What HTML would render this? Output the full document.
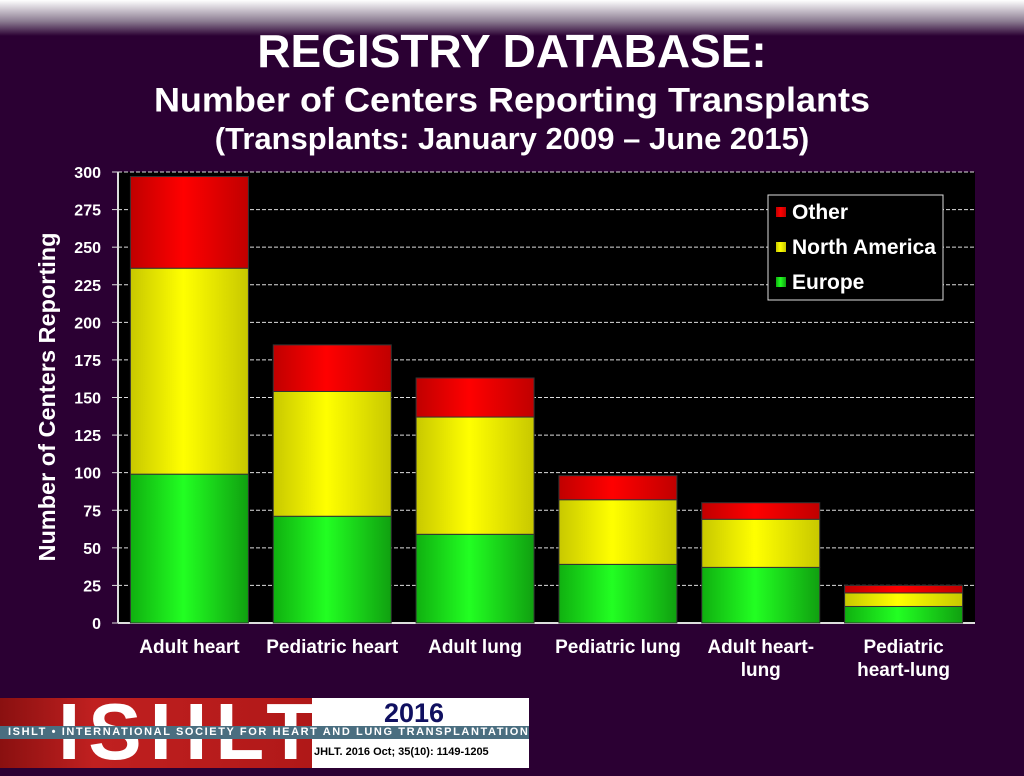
<!DOCTYPE html>
<html><head><meta charset="utf-8"><style>
body{margin:0;width:1024px;height:768px;overflow:hidden;background:#2b0033;font-family:"Liberation Sans",sans-serif}
#top{position:absolute;left:0;top:0;width:1024px;height:36px;background:linear-gradient(#ffffff,#8a7a90 60%,#2b0033)}
.t{position:absolute;left:0;width:1024px;text-align:center;color:#fff;font-weight:bold;white-space:nowrap}
</style></head><body>
<div id="top"></div>
<div class="t" style="top:24px;font-size:46px">REGISTRY DATABASE:</div>
<div class="t" style="top:79px;font-size:36px;transform:scaleY(0.94)">Number of Centers Reporting Transplants</div>
<div class="t" style="top:121px;font-size:31px">(Transplants: January 2009 – June 2015)</div>
<svg id="c" width="1024" height="768" style="position:absolute;left:0;top:0">
<defs>
<linearGradient id="gG"><stop offset="0" stop-color="#10b010"/><stop offset=".45" stop-color="#22ff22"/><stop offset="1" stop-color="#10a010"/></linearGradient>
<linearGradient id="gY"><stop offset="0" stop-color="#c8c800"/><stop offset=".45" stop-color="#ffff00"/><stop offset="1" stop-color="#c8c800"/></linearGradient>
<linearGradient id="gR"><stop offset="0" stop-color="#c00000"/><stop offset=".45" stop-color="#ff0000"/><stop offset="1" stop-color="#c00000"/></linearGradient>
</defs>
</svg>
<div style="position:absolute;left:0;top:698px;width:312px;height:70px;background:linear-gradient(90deg,#8a1010,#c02020 30%,#b01818)">
<div style="position:absolute;left:58px;top:-6px;font-size:80px;font-weight:bold;color:#fff;letter-spacing:8px;line-height:80px">ISHLT</div></div>
<div style="position:absolute;left:312px;top:698px;width:217px;height:70px;background:#fff">
<div style="position:absolute;left:72px;top:0;font-size:27px;font-weight:bold;color:#101060">2016</div>
<div style="position:absolute;left:2px;top:48px;font-size:11px;font-weight:bold;color:#000">JHLT. 2016 Oct; 35(10): 1149-1205</div></div>
<div style="position:absolute;left:0;top:726px;width:529px;height:13px;background:#4a6e80;color:#fff;font-size:11px;font-weight:bold;letter-spacing:1.6px;line-height:13px;padding-left:8px;box-sizing:border-box;white-space:nowrap">ISHLT • INTERNATIONAL SOCIETY FOR HEART AND LUNG TRANSPLANTATION</div>
<script>
const categories=[["Adult heart"],["Pediatric heart"],["Adult lung"],["Pediatric lung"],["Adult heart-","lung"],["Pediatric","heart-lung"]];
const europe=[99,71,59,39,37,11];
const northAmerica=[137,83,78,43,32,9];
const other=[61,31,26,16,11,5];
const yTicks=[0,25,50,75,100,125,150,175,200,225,250,275,300];
const NS="http://www.w3.org/2000/svg",svg=document.getElementById('c');
const X0=118,X1=975,Y0=623,Y1=172,yMax=300;
const y=v=>Y0-v/yMax*(Y0-Y1);
const band=(X1-X0)/categories.length;
const xc=i=>X0+band*(i+.5);
function mk(t,a){const e=document.createElementNS(NS,t);for(const k in a)e.setAttribute(k,a[k]);svg.appendChild(e);return e;}
const bg=mk('rect',{x:X0,y:Y1,width:X1-X0,height:Y0-Y1,fill:'#000'});


yTicks.forEach(v=>{
 if(v>0){const g=mk('line',{x1:X0,x2:X1,y1:y(v),y2:y(v),stroke:'#ddd','stroke-dasharray':'4 2','stroke-width':1});
 
 }
 mk('line',{x1:X0-6,x2:X0,y1:y(v),y2:y(v),stroke:'#ddd'});
 const t=mk('text',{x:X0-17,y:y(v)+6,fill:'#fff','font-size':16,'font-weight':'bold','text-anchor':'end','font-family':'Liberation Sans'});
 t.textContent=v;
 
 
});
mk('line',{x1:X0,x2:X0,y1:Y1,y2:Y0,stroke:'#ddd','stroke-width':2});
mk('line',{x1:X0,x2:X1,y1:Y0,y2:Y0,stroke:'#ddd','stroke-width':2});
const yt=mk('text',{transform:`translate(55,397) rotate(-90)`,fill:'#fff','font-size':23.5,'font-weight':'bold','text-anchor':'middle','font-family':'Liberation Sans'});
yt.textContent='Number of Centers Reporting';


const bw=118;
categories.forEach((c,i)=>{
 const segs=[[europe[i],'gG','europe'],[northAmerica[i],'gY','north-america'],[other[i],'gR','other']];
 let base=0;
 segs.forEach(([v,f,n])=>{
  const r=mk('rect',{x:xc(i)-bw/2,y:y(base+v),width:bw,height:y(base)-y(base+v),fill:`url(#${f})`,stroke:'#333','stroke-width':1});
  
  
  base+=v;
 });
 c.forEach((l,j)=>{const t=mk('text',{x:xc(i),y:653+j*23,fill:'#fff','font-size':19,'font-weight':'bold','text-anchor':'middle','font-family':'Liberation Sans'});
 t.textContent=l;
 
 });
});
const lg=mk('rect',{x:768,y:195,width:175,height:105,fill:'#000',stroke:'#ddd'});


[['Other','gR'],['North America','gY'],['Europe','gG']].forEach(([n,f],k)=>{
 mk('rect',{x:776,y:207+k*35,width:10,height:10,fill:`url(#${f})`});
 const t=mk('text',{x:792,y:219+k*35,fill:'#fff','font-size':21,'font-weight':'bold','font-family':'Liberation Sans'});
 t.textContent=n;
 
 
});
</script>
</body></html>
